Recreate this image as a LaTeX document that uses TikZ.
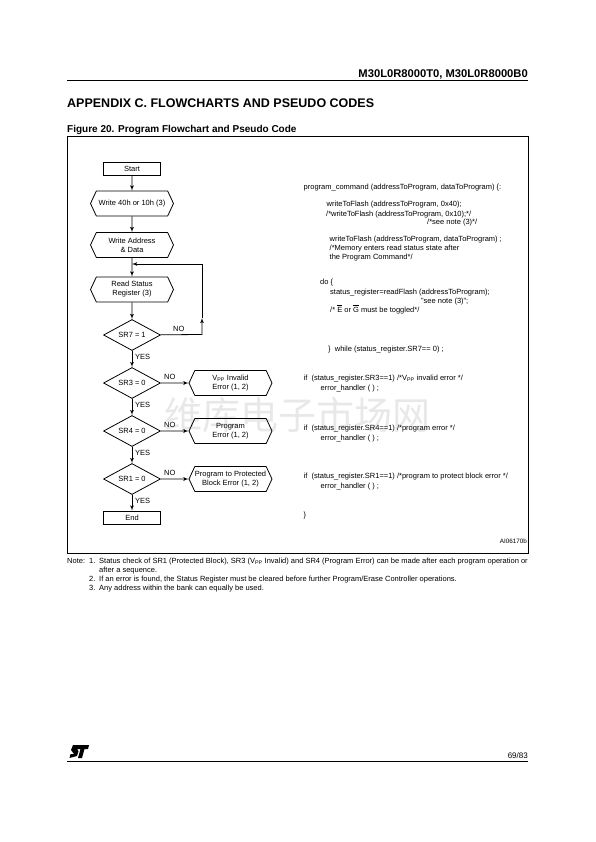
\documentclass[tikz,border=0pt]{standalone}
\usepackage{fontspec}
\setmainfont{Liberation Sans}
\newfontfamily\cjk{Noto Sans CJK SC}
\usetikzlibrary{arrows,shapes,positioning}
\tikzstyle{format}=[rectangle,draw,line width=0.8pt,minimum width=57pt,minimum height=13pt,inner sep=0pt,font=\fontsize{7.5}{9}\selectfont]
\tikzstyle{hexa}=[signal,signal to=east and west,signal pointer angle=130,draw,line width=0.8pt,minimum width=83pt,minimum height=25pt,inner sep=0pt,align=center,font=\fontsize{7.5}{9}\selectfont]
\tikzstyle{test}=[diamond,aspect=1.84,draw,line width=0.8pt,minimum width=57pt,minimum height=31pt,inner sep=0pt,font=\fontsize{7.5}{9}\selectfont]
\tikzstyle{flag}=[inner sep=0pt,anchor=west,font=\fontsize{7.5}{9}\selectfont]
\tikzstyle{code}=[inner sep=0pt,anchor=base west,font=\fontsize{7.5}{9}\selectfont]
\tikzstyle{note}=[inner sep=0pt,anchor=base west,font=\fontsize{7.5}{9}\selectfont]
\tikzstyle{point}=[coordinate]
\tikzstyle{link}=[line width=0.8pt,>=latex']
\newcommand{\vpp}{V\textsubscript{PP}}
\begin{document}
\begin{tikzpicture}[x=1pt,y=-1pt]
  \useasboundingbox (0,0) rectangle (595,842);
  %page head
  \draw[line width=0.9pt] (67,80.5) -- (528,80.5);
  \node[inner sep=0pt,anchor=east,font=\fontsize{11.2}{13}\selectfont\bfseries] (header) at (528,74){M30L0R8000T0, M30L0R8000B0};
  \node[inner sep=0pt,anchor=west,font=\fontsize{12.5}{15}\selectfont\bfseries] (appendix) at (67,103){APPENDIX C. FLOWCHARTS AND PSEUDO CODES};
  \node[inner sep=0pt,anchor=west,font=\fontsize{10}{12}\selectfont\bfseries] (figtitle) at (67,129.5){Figure 20. Program Flowchart and Pseudo Code};
  \node[text=black!9,inner sep=0pt,font=\fontsize{38}{40}\selectfont\cjk] (mark) at (297,415){维库电子市场网};
  \draw[line width=0.8pt] (67,136.5) rectangle (528,553.5);
  %flowchart
  \node[format] (start) at (132,168.5){Start};
  \node[hexa,below of=start,node distance=35pt] (command){Write 40h or 10h (3)};
  \node[hexa,below of=command,node distance=41.5pt] (address){Write Address\\\& Data};
  \node[hexa,below of=address,node distance=44.5pt] (status){Read Status\\Register (3)};
  \node[test,below of=status,node distance=45.5pt] (sr7){SR7 = 1};
  \node[test,below of=sr7,node distance=48pt] (sr3){SR3 = 0};
  \node[test,below of=sr3,node distance=48pt] (sr4){SR4 = 0};
  \node[test,below of=sr4,node distance=48pt] (sr1){SR1 = 0};
  \node[format,below of=sr1,node distance=38.5pt] (end){End};
  \node[hexa,right of=sr3,node distance=98.5pt] (vpperror){\vpp{} Invalid\\Error (1, 2)};
  \node[hexa,right of=sr4,node distance=98.5pt] (progerror){Program\\Error (1, 2)};
  \node[hexa,right of=sr1,node distance=98.5pt] (blockerror){Program to Protected\\Block Error (1, 2)};
  \node[point] (joint) at (132,264){};
  \node[point] (turn) at (202,334.5){};
  \node[point] (tock) at (202,318){};
  \draw[link,->] (start)--(command);
  \draw[link,->] (command)--(address);
  \draw[link,->] (address)--(status);
  \draw[link,->] (status)--(sr7);
  \draw[link,->] (sr7)--(sr3);
  \draw[link,->] (sr3)--(sr4);
  \draw[link,->] (sr4)--(sr1);
  \draw[link,->] (sr1)--(end);
  \draw[link,->] (sr3)--(vpperror);
  \draw[link,->] (sr4)--(progerror);
  \draw[link,->] (sr1)--(blockerror);
  \draw[link,->] (sr7)--(turn)--(tock);
  \draw[link,->] (tock)|-(joint);
  \node[flag] (no7) at (173,328.5){NO};
  \node[flag] (yes7) at (135,357){YES};
  \node[flag] (no3) at (164,376.5){NO};
  \node[flag] (yes3) at (135,405){YES};
  \node[flag] (no4) at (164,424.5){NO};
  \node[flag] (yes4) at (135,453){YES};
  \node[flag] (no1) at (164,472.5){NO};
  \node[flag] (yes1) at (135,501){YES};
  %pseudo code
  \node[code] (c1) at (303.5,189.5){program\_command (addressToProgram, dataToProgram) \{:};
  \node[code] (c2) at (326.5,206.5){writeToFlash (addressToProgram, 0x40);};
  \node[code] (c3) at (326,216){/*writeToFlash (addressToProgram, 0x10);*/};
  \node[code] (c4) at (427,225){/*see note (3)*/};
  \node[code] (c5) at (329.5,241.5){writeToFlash (addressToProgram, dataToProgram) ;};
  \node[code] (c6) at (329.5,250.5){/*Memory enters read status state after};
  \node[code] (c7) at (329.5,259.5){the Program Command*/};
  \node[code] (c8) at (320,284.5){do \{};
  \node[code] (c9) at (330,294){status\_register=readFlash (addressToProgram);};
  \node[code] (c10) at (421,303.5){"see note (3)";};
  \node[code] (c11) at (330,312){/* $\overline{\mbox{E}}$ or $\overline{\mbox{G}}$ must be toggled*/};
  \node[code] (c12) at (328,351){\}\ \ while (status\_register.SR7== 0) ;};
  \node[code] (c13) at (303.5,380.5){if\ \ (status\_register.SR3==1) /*\vpp{} invalid error */};
  \node[code] (c14) at (320.5,390){error\_handler ( ) ;};
  \node[code] (c15) at (303.5,430.5){if\ \ (status\_register.SR4==1) /*program error */};
  \node[code] (c16) at (320.5,440){error\_handler ( ) ;};
  \node[code] (c17) at (303.5,478.5){if\ \ (status\_register.SR1==1) /*program to protect block error */};
  \node[code] (c18) at (320.5,488){error\_handler ( ) ;};
  \node[code] (c19) at (303.5,517){\}};
  \node[inner sep=0pt,anchor=east,font=\fontsize{6.3}{7}\selectfont] (ref) at (527,541.5){AI06170b};
  %notes
  \node[note] (n0) at (67,563.5){Note:};
  \node[note] (n1) at (89,563.5){1.};
  \node[note] (t1) at (99,563.5){Status check of SR1 (Protected Block), SR3 (\vpp{} Invalid) and SR4 (Program Error) can be made after each program operation or};
  \node[note] (t1b) at (99,572.5){after a sequence.};
  \node[note] (n2) at (89,581){2.};
  \node[note] (t2) at (99,581){If an error is found, the Status Register must be cleared before further Program/Erase Controller operations.};
  \node[note] (n3) at (89,590){3.};
  \node[note] (t3) at (99,590){Any address within the bank can equally be used.};
  %page foot
  \fill (73,745) -- (89,745) -- (88,749) -- (84.5,749) -- (82,758) -- (78,758) -- (80.5,749) -- (77,749) -- (78.5,751) -- (77,756) -- (69.5,758) -- (70.5,754) -- (74,754) -- (71,750) -- cycle;
  \draw[line width=0.9pt] (67,761) -- (528,761);
  \node[inner sep=0pt,anchor=east,font=\fontsize{8}{9}\selectfont] (page) at (528,755.5){69/83};
\end{tikzpicture}
\end{document}
